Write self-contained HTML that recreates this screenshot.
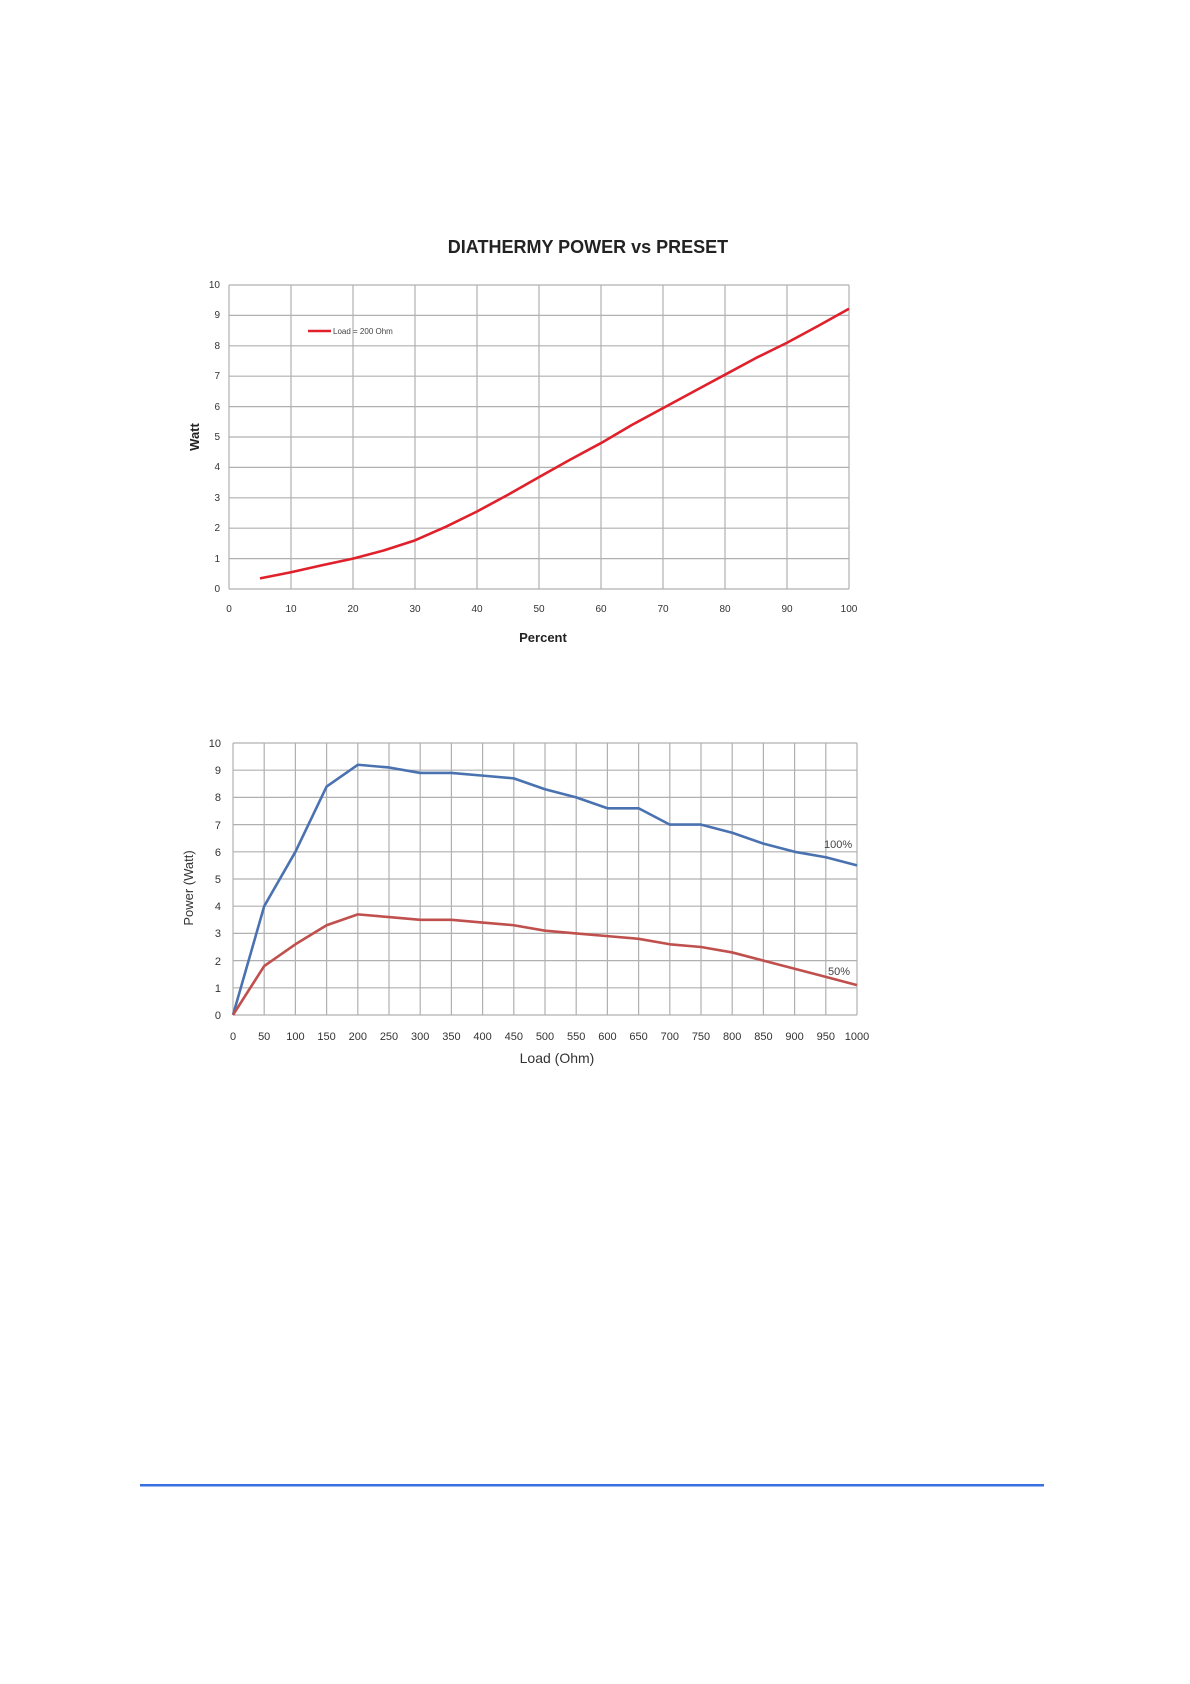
<!DOCTYPE html>
<html><head><meta charset="utf-8"><style>
html,body{margin:0;padding:0;background:#fff}
svg{display:block}
text{font-family:"Liberation Sans",sans-serif}
</style></head><body>
<svg width="1190" height="1684" viewBox="0 0 1190 1684" xmlns="http://www.w3.org/2000/svg">
<rect width="1190" height="1684" fill="#fff"/>
<!-- Chart 1 -->
<text x="588" y="253" text-anchor="middle" font-size="18" font-weight="bold" fill="#222">DIATHERMY  POWER  vs PRESET</text>
<g transform="matrix(6.2 0 0 -30.4 229 589)" stroke="#b0b0b0" fill="none">
<path vector-effect="non-scaling-stroke" stroke-width="1.2" d="M0 0H100M0 1H100M0 2H100M0 3H100M0 4H100M0 5H100M0 6H100M0 7H100M0 8H100M0 9H100M0 10H100M0 0V10M10 0V10M20 0V10M30 0V10M40 0V10M50 0V10M60 0V10M70 0V10M80 0V10M90 0V10M100 0V10"/>
<polyline vector-effect="non-scaling-stroke" stroke="#e0202a" stroke-width="2.6" stroke-linejoin="round" points="5,0.35 10,0.55 15,0.78 20,1.0 25,1.27 30,1.6 35,2.05 40,2.55 45,3.1 50,3.68 55,4.25 60,4.8 65,5.4 70,5.95 75,6.5 80,7.05 85,7.6 90,8.1 95,8.65 100,9.22"/>
</g>
<line x1="308" y1="331" x2="331" y2="331" stroke="#e0202a" stroke-width="2.6"/>
<text x="333" y="334" font-size="8" fill="#444">Load = 200 Ohm</text>
<g font-size="10" fill="#333" text-anchor="end">
<text x="220" y="592">0</text><text x="220" y="562">1</text><text x="220" y="531">2</text><text x="220" y="501">3</text><text x="220" y="470">4</text><text x="220" y="440">5</text><text x="220" y="410">6</text><text x="220" y="379">7</text><text x="220" y="349">8</text><text x="220" y="318">9</text><text x="220" y="288">10</text>
</g>
<g font-size="10" fill="#333" text-anchor="middle">
<text x="229" y="612">0</text><text x="291" y="612">10</text><text x="353" y="612">20</text><text x="415" y="612">30</text><text x="477" y="612">40</text><text x="539" y="612">50</text><text x="601" y="612">60</text><text x="663" y="612">70</text><text x="725" y="612">80</text><text x="787" y="612">90</text><text x="849" y="612">100</text>
</g>
<text x="543" y="642" text-anchor="middle" font-size="13" font-weight="bold" fill="#222">Percent</text>
<text transform="translate(199 437) rotate(-90)" text-anchor="middle" font-size="13" font-weight="bold" fill="#222">Watt</text>
<!-- Chart 2 -->
<g transform="matrix(0.624 0 0 -27.2 233 1015)" fill="none">
<path vector-effect="non-scaling-stroke" stroke="#b0b0b0" stroke-width="1.2" d="M0 0H1000M0 1H1000M0 2H1000M0 3H1000M0 4H1000M0 5H1000M0 6H1000M0 7H1000M0 8H1000M0 9H1000M0 10H1000M0 0V10M50 0V10M100 0V10M150 0V10M200 0V10M250 0V10M300 0V10M350 0V10M400 0V10M450 0V10M500 0V10M550 0V10M600 0V10M650 0V10M700 0V10M750 0V10M800 0V10M850 0V10M900 0V10M950 0V10M1000 0V10"/>
<polyline vector-effect="non-scaling-stroke" stroke="#4a72b0" stroke-width="2.6" stroke-linejoin="round" points="0,0 50,4 100,6 150,8.4 200,9.2 250,9.1 300,8.9 350,8.9 400,8.8 450,8.7 500,8.3 550,8.0 600,7.6 650,7.6 700,7.0 750,7.0 800,6.7 850,6.3 900,6.0 950,5.8 1000,5.5"/>
<polyline vector-effect="non-scaling-stroke" stroke="#c0504d" stroke-width="2.6" stroke-linejoin="round" points="0,0 50,1.8 100,2.6 150,3.3 200,3.7 250,3.6 300,3.5 350,3.5 400,3.4 450,3.3 500,3.1 550,3.0 600,2.9 650,2.8 700,2.6 750,2.5 800,2.3 850,2.0 900,1.7 950,1.4 1000,1.1"/>
</g>
<text x="824" y="848" font-size="11" fill="#444">100%</text>
<text x="828" y="975" font-size="11" fill="#444">50%</text>
<g font-size="11" fill="#333" text-anchor="end">
<text x="221" y="1019">0</text><text x="221" y="992">1</text><text x="221" y="965">2</text><text x="221" y="937">3</text><text x="221" y="910">4</text><text x="221" y="883">5</text><text x="221" y="856">6</text><text x="221" y="829">7</text><text x="221" y="801">8</text><text x="221" y="774">9</text><text x="221" y="747">10</text>
</g>
<g font-size="11" fill="#333" text-anchor="middle">
<text x="233" y="1040">0</text><text x="264.2" y="1040">50</text><text x="295.4" y="1040">100</text><text x="326.6" y="1040">150</text><text x="357.8" y="1040">200</text><text x="389" y="1040">250</text><text x="420.2" y="1040">300</text><text x="451.4" y="1040">350</text><text x="482.6" y="1040">400</text><text x="513.8" y="1040">450</text><text x="545" y="1040">500</text><text x="576.2" y="1040">550</text><text x="607.4" y="1040">600</text><text x="638.6" y="1040">650</text><text x="669.8" y="1040">700</text><text x="701" y="1040">750</text><text x="732.2" y="1040">800</text><text x="763.4" y="1040">850</text><text x="794.6" y="1040">900</text><text x="825.8" y="1040">950</text><text x="857" y="1040">1000</text>
</g>
<text x="557" y="1063" text-anchor="middle" font-size="14" fill="#333">Load (Ohm)</text>
<text transform="translate(193 888) rotate(-90)" text-anchor="middle" font-size="13" fill="#333">Power (Watt)</text>
<!-- bottom rule -->
<rect x="140" y="1484" width="904" height="2.5" fill="#3a6fe0"/>
</svg>
</body></html>
